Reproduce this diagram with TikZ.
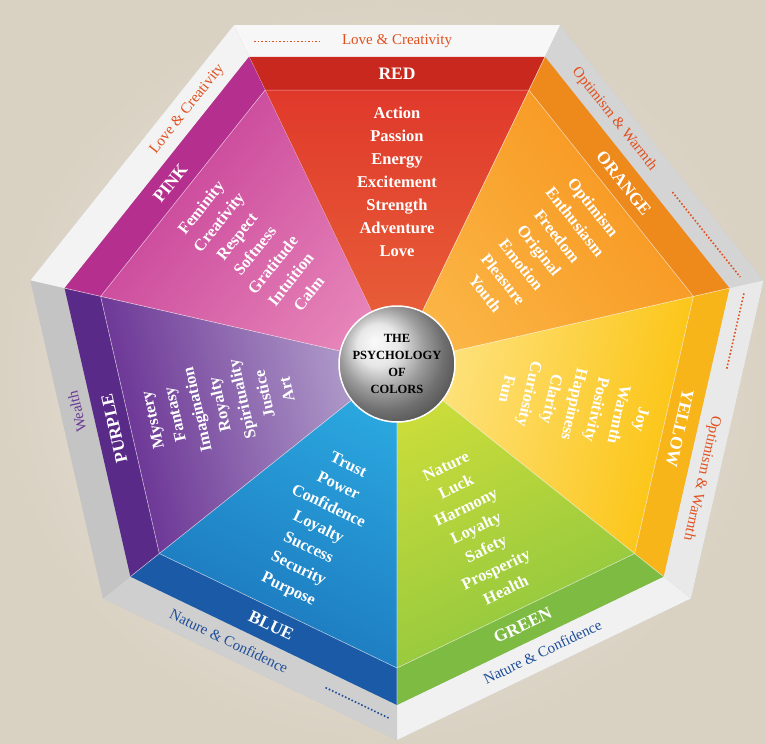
\documentclass[tikz,border=0pt]{standalone}
\usepackage{fontspec}
\usetikzlibrary{calc}
\setmainfont{Liberation Serif}
\definecolor{bgin}{HTML}{F4F1EA}\definecolor{bgout}{HTML}{D9D1C2}
\definecolor{lblred}{HTML}{E0501E}\definecolor{lblpur}{HTML}{6A3996}\definecolor{lblblue}{HTML}{1F4E9A}
\begin{document}
\begin{tikzpicture}[x=1pt,y=1pt,
  bodytxt/.style={text=white,font=\bfseries\fontsize{16.5}{23}\selectfont,align=center},
  bandtxt/.style={text=white,font=\bfseries\fontsize{17.5}{20}\selectfont},
  frametxt/.style={font=\fontsize{15}{17}\selectfont},
  dotline/.style={dotted,line width=1.6pt}]
\useasboundingbox (0,0) rectangle (766,-744);
\shade[inner color=bgin,outer color=bgout] (0,0) rectangle (766,-744);
\begin{scope}[shift={(397,-364)}]
% frame
\fill[gray!45] (115.71:376) \foreach \a in {64.29,12.86,-38.57,-90,-141.43,-192.86} {-- (\a:376)} -- cycle;
\foreach \n/\g in {90/F7F7F7,38.57/D4D4D4,-12.86/E9E9E9,-64.29/F1F1F1,-115.71/CFCFCF,-167.14/C4C4C4,141.43/F3F3F3}{
  \definecolor{fr}{HTML}{\g}
  \fill[fr] (\n+25.71:376) -- (\n-25.71:376) -- (\n-25.71:341) -- (\n+25.71:341) -- cycle;
}
% segments
\foreach \n/\c/\b/\l/\name/\words/\rot in {
 90/E0392B/C8281E/E9653A/RED/{Action\\Passion\\Energy\\Excitement\\Strength\\Adventure\\Love}/0,
 38.57/F7941D/EE8A1B/FBB545/ORANGE/{Optimism\\Enthusiasm\\Freedom\\Original\\Emotion\\Pleasure\\Youth}/-51.43,
 -12.86/FCC30F/F8B51A/FDE58A/YELLOW/{Joy\\Warmth\\Positivity\\Happiness\\Clarity\\Curiosity\\Fun}/-102.86,
 -64.29/8DC63F/7DBB42/CCDD3A/GREEN/{Nature\\Luck\\Harmony\\Loyalty\\Safety\\Prosperity\\Health}/25.71,
 -115.71/1B75BB/1A5AA6/2BA8E0/BLUE/{Trust\\Power\\Confidence\\Loyalty\\Success\\Security\\Purpose}/-25.71,
 -167.14/662D91/5A2A88/B8A8D0/PURPLE/{Mystery\\Fantasy\\Imagination\\Royalty\\Spirituality\\Justice\\Art}/102.86,
 141.43/C53D96/B5308E/E683B8/PINK/{Feminity\\Creativity\\Respect\\Softness\\Gratitude\\Intuition\\Calm}/51.43}{
  \definecolor{cm}{HTML}{\c}\definecolor{cb}{HTML}{\b}\definecolor{cl}{HTML}{\l}
  \pgfmathsetmacro\sa{\n-90}
  \shade[top color=cm,bottom color=cl,shading angle=\sa] (0,0) -- (\n+25.71:304) -- (\n-25.71:304) -- cycle;
  \fill[cb] (\n+25.71:341) -- (\n-25.71:341) -- (\n-25.71:304) -- (\n+25.71:304) -- cycle;
  \draw[white,opacity=.6,line width=.6pt] (0,0) -- (\n+25.71:341) (\n+25.71:304) -- (\n-25.71:304);
  \node[bandtxt,rotate=\rot] (b\name) at (\n:290) {\name};
  \node[bodytxt,rotate=\rot] (w\name) at (\n:182) {\words};
}
% center
\shade[ball color=gray!25,draw=white,line width=1.5pt] (0,0) circle (58);
\node[align=center,font=\bfseries\fontsize{12.5}{17}\selectfont] (ctr) at (0,0) {THE\\PSYCHOLOGY\\OF\\COLORS};
% frame labels
\node[frametxt,text=lblred] (f1) at ($(115.71:358)!0.5!(64.29:358)$) {Love \& Creativity};
\draw[lblred,dotline] ($(115.71:358)!0.04!(64.29:358)$) -- ($(115.71:358)!0.25!(64.29:358)$);
\node[frametxt,text=lblred,rotate=51.43] (f2) at ($(167.14:358)!0.72!(115.71:358)$) {Love \& Creativity};
\node[frametxt,text=lblred,rotate=-51.43] (f3) at ($(64.29:358)!0.32!(12.86:358)$) {Optimism \& Warmth};
\draw[lblred,dotline] ($(64.29:358)!0.62!(12.86:358)$) -- ($(64.29:358)!0.97!(12.86:358)$);
\draw[lblred,dotline] ($(12.86:358)!0.03!(-38.57:358)$) -- ($(12.86:358)!0.28!(-38.57:358)$);
\node[frametxt,text=lblred,rotate=-102.86] (f4) at ($(12.86:358)!0.64!(-38.57:358)$) {Optimism \& Warmth};
\node[frametxt,text=lblpur,rotate=102.86] (f5) at ($(218.57:358)!0.58!(167.14:358)$) {Wealth};
\node[frametxt,text=lblblue,rotate=-25.71] (f6) at ($(270:358)!0.6!(218.57:358)$) {Nature \& Confidence};
\draw[lblblue,dotline] ($(270:358)!0.03!(218.57:358)$) -- ($(270:358)!0.26!(218.57:358)$);
\node[frametxt,text=lblblue,rotate=25.71] (f7) at ($(321.43:358)!0.48!(270:358)$) {Nature \& Confidence};
\end{scope}
\end{tikzpicture}
\end{document}
